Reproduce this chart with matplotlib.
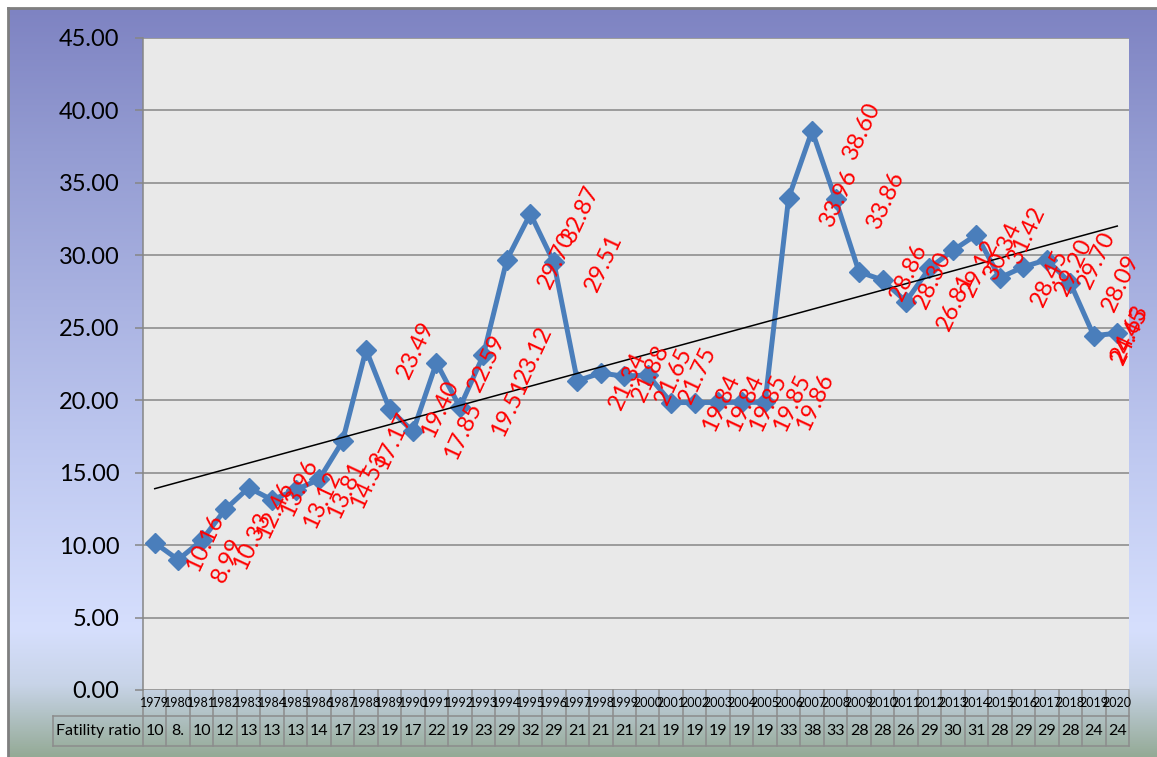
import matplotlib
matplotlib.use('Agg')
import matplotlib.pyplot as plt
import matplotlib.transforms as mtransforms
import numpy as np

plt.rcParams['font.family'] = ['Lato', 'DejaVu Sans']

# data
years = [str(y) for y in range(1979, 2021)]
ratio = [10.16, 8.99, 10.33, 12.46, 13.96, 13.12, 13.81, 14.53, 17.17, 23.49,
         19.40, 17.85, 22.59, 19.51, 23.12, 29.70, 32.87, 29.51, 21.34, 21.88,
         21.65, 21.75, 19.84, 19.84, 19.85, 19.85, 19.86, 33.96, 38.60, 33.86,
         28.86, 28.30, 26.81, 29.12, 30.34, 31.42, 28.45, 29.20, 29.70, 28.09,
         24.45, 24.63]
row_name = 'Fatility ratio'
yticks = np.arange(0, 46, 5)

W, H = 1157, 757
fig = plt.figure(figsize=(W / 100, H / 100), dpi=100)
fig.patch.set_facecolor('white')

# background gradient (excel chart area fill)
bg = fig.add_axes([0, 0, 1, 1], zorder=-10)
bg.set_xlim(0, W)
bg.set_ylim(H, 0)
bg.axis('off')
stops_y = [8, 150, 450, 630, 685, 757]
stops_c = np.array([(126, 131, 194), (148, 156, 210), (190, 200, 240),
                    (214, 223, 253), (200, 212, 232), (148, 170, 150)]) / 255.
yy = np.linspace(8, H, 400)
grad = np.stack([np.interp(yy, stops_y, stops_c[:, k]) for k in range(3)], axis=-1)
bg.imshow(grad[:, None, :], extent=(8, W, H, 8), aspect='auto')
bg.plot([8, W], [8, 8], color='#7f7f7f', lw=2)
bg.plot([8, 8], [8, H], color='#7f7f7f', lw=2)

left, right, top, bottom = 143, 1129, 38, 690
ax = fig.add_axes([left / W, 1 - bottom / H, (right - left) / W, (bottom - top) / H])
ax.set_facecolor('#e9e9e9')

x = np.arange(len(years))
ax.set_xlim(-0.5, len(years) - 0.5)
ax.set_ylim(0, 45)
ax.set_yticks(yticks)
ax.set_yticklabels(['%.2f' % t for t in yticks], fontsize=17)
ax.tick_params(axis='y', length=6, width=1.1, color='#868686', pad=11)
ax.set_xticks([])
ax.yaxis.grid(True, color='#878787', lw=1.1)
ax.set_axisbelow(True)
for s in ['top', 'right', 'bottom']:
    ax.spines[s].set_visible(False)
ax.spines['left'].set_color('#868686')
ax.spines['left'].set_linewidth(1.1)

ax.plot(x, ratio, color='#4a7ebb', lw=3.6, marker='D', ms=10, zorder=3)

# linear trendline
k, b = np.polyfit(x, ratio, 1)
ax.plot(x, k * x + b, color='black', lw=1.1, zorder=4)

# data labels (rotated, pushed right of each point)
px_per_unit = (right - left) / len(years)
shift = 50 / px_per_unit
for xi, v in zip(x, ratio):
    lx = min(xi + shift, len(years) - 0.45)
    ax.text(lx, v, '%.2f' % v, color='red', fontsize=17, rotation=65,
            rotation_mode='anchor', ha='center', va='center', zorder=5,
            clip_on=False)

# data table under the plot
tr = mtransforms.blended_transform_factory(ax.transData, ax.transAxes)
ph = bottom - top
r1 = -26 / ph
r2 = -56 / ph
hdr = -0.5 - (left - 53) / px_per_unit
lc = '#8c8c8c'
for i in range(len(years) + 1):
    ax.plot([i - 0.5, i - 0.5], [0, r2], color=lc, lw=1.1, transform=tr, clip_on=False)
ax.plot([hdr, len(years) - 0.5], [r1, r1], color=lc, lw=1.1, transform=tr, clip_on=False)
ax.plot([hdr, len(years) - 0.5], [r2, r2], color=lc, lw=1.1, transform=tr, clip_on=False)
ax.plot([hdr, hdr], [r1, r2], color=lc, lw=1.1, transform=tr, clip_on=False)
ax.text((hdr - 0.5) / 2, (r1 + r2) / 2, row_name, fontsize=11.5, ha='center', va='center',
        transform=tr)
for xi, yr, v in zip(x, years, ratio):
    ax.text(xi, r1 / 2, yr, fontsize=9, ha='center', va='center', transform=tr)
    ax.text(xi, (r1 + r2) / 2, ('%.2f' % v)[:2], fontsize=11.5, ha='center', va='center',
            transform=tr)

fig.savefig('out.png', dpi=100)
